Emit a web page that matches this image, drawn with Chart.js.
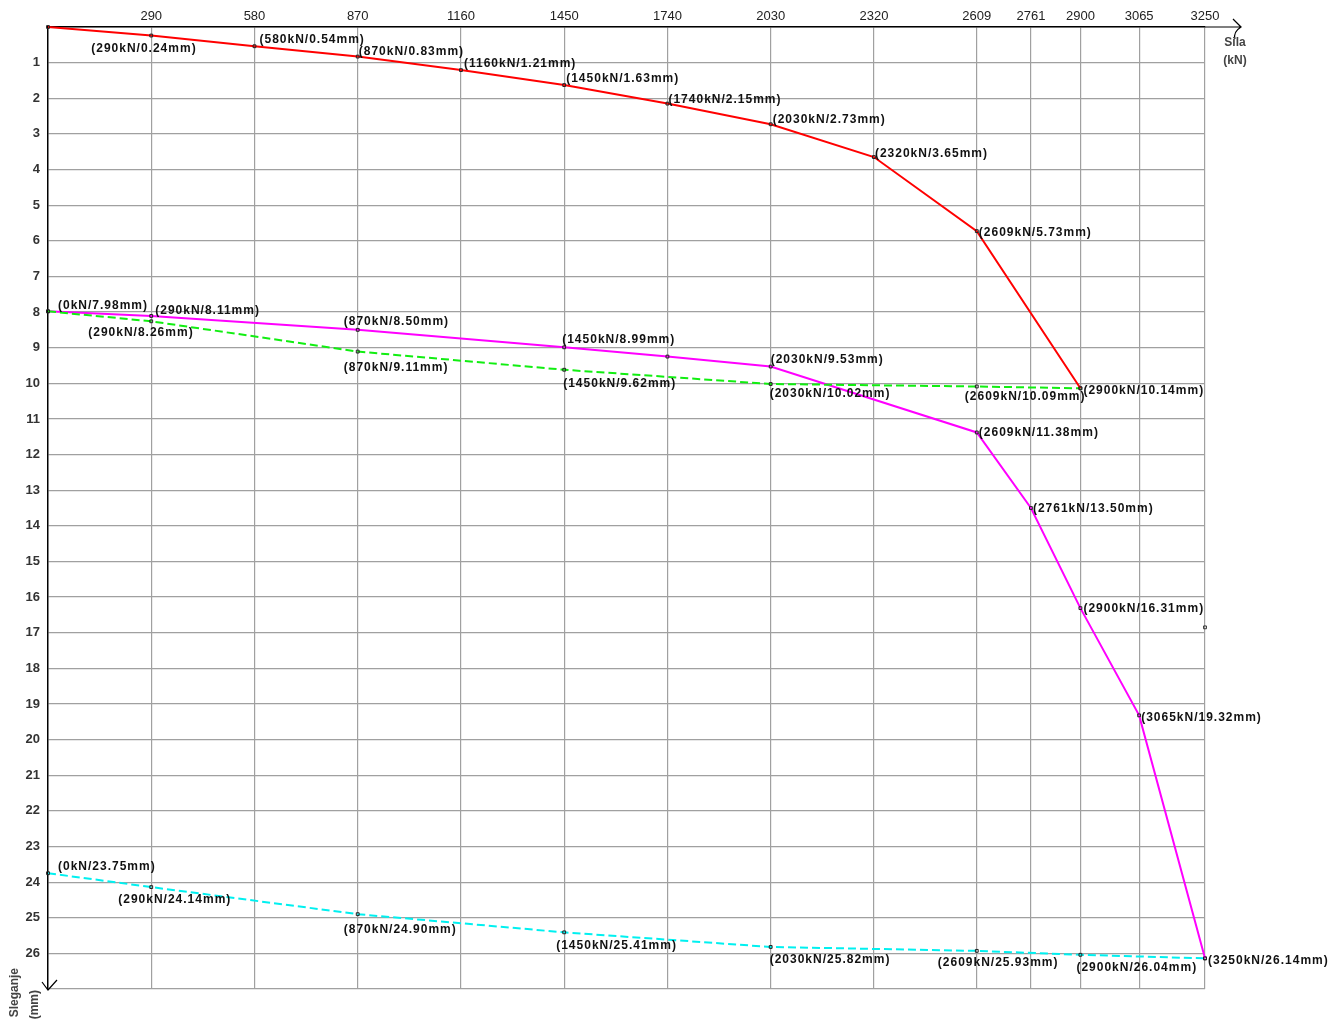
<!DOCTYPE html>
<html>
<head>
<meta charset="utf-8">
<script src="https://cdn.jsdelivr.net/npm/chart.js@4"></script>
<style>
  body { margin: 0; background: #fff; }
  canvas { display: block; }
</style>
</head>
<body>
<canvas id="canvas" width="1330" height="1023"></canvas>
<script>
// values (kN / mm)
let xTicks = [290, 580, 870, 1160, 1450, 1740, 2030, 2320, 2609, 2761, 2900, 3065, 3250];

let redX = [0, 290, 580, 870, 1160, 1450, 1740, 2030, 2320, 2609, 2900];
let redY = [0, 0.24, 0.54, 0.83, 1.21, 1.63, 2.15, 2.73, 3.65, 5.73, 10.14];

let magX = [0, 290, 870, 1450, 1740, 2030, 2609, 2761, 2900, 3065, 3250];
let magY = [7.98, 8.11, 8.50, 8.99, 9.25, 9.53, 11.38, 13.50, 16.31, 19.32, 26.14];

let greenX = [0, 290, 870, 1450, 2030, 2609, 2900];
let greenY = [7.98, 8.26, 9.11, 9.62, 10.02, 10.09, 10.14];

let cyanX = [0, 290, 870, 1450, 2030, 2609, 2900, 3250];
let cyanY = [23.75, 24.14, 24.90, 25.41, 25.82, 25.93, 26.04, 26.14];

let strayX = [3250];
let strayY = [16.85];

// where each point label sits relative to its point (null = no label)
let redLabelPos = [null, [-60, 13], [5, -7], [1, -5], [3, -6], [2, -6], [1, -4], [2, -5], [1, -3], [2, 2], [3, 2]];
let magLabelPos = [[10, -6], [4, -5], [-14, -8], [-2, -8], null, [0, -7], [2, 0], [2, 1], [3, 1], [2, 2], null];
let greenLabelPos = [null, [-63, 11], [-14, 16], [-1, 14], [-1, 10], [-12, 10], null];
let cyanLabelPos = [[10, -7], [-33, 13], [-14, 16], [-8, 13], [-1, 13], [-39, 12], [-4, 13], [3, 2]];

function pts(xs, ys) {
    return xs.map((x, i) => ({ x: x, y: ys[i] }));
}

function series(xs, ys, color, dashed, labels) {
    return {
        data: pts(xs, ys),
        borderColor: color,
        borderWidth: 2,
        borderDash: dashed ? [8, 4] : [],
        pointStyle: "rect",
        pointRadius: 2,
        pointBorderColor: "#222",
        pointBorderWidth: 1,
        pointBackgroundColor: "rgba(0,0,0,0)",
        tension: 0,
        clip: false,
        labelPos: labels
    };
}

let pointLabels = {
    id: "pointLabels",
    afterDatasetsDraw(chart) {
        let ctx = chart.ctx;
        ctx.save();
        ctx.font = "bold 12px 'Liberation Sans', Arial, sans-serif";
        ctx.letterSpacing = "1px";
        ctx.fillStyle = "#111";
        ctx.textAlign = "left";
        ctx.textBaseline = "middle";
        chart.data.datasets.forEach((ds, di) => {
            if (!ds.labelPos) return;
            let meta = chart.getDatasetMeta(di);
            ds.data.forEach((p, i) => {
                let off = ds.labelPos[i];
                if (!off) return;
                let el = meta.data[i];
                let txt = "(" + p.x + "kN/" + p.y.toFixed(2) + "mm)";
                ctx.fillText(txt, el.x + off[0], el.y + off[1]);
            });
        });
        ctx.restore();
    }
};

let axisDecor = {
    id: "axisDecor",
    afterDraw(chart) {
        let ctx = chart.ctx;
        let a = chart.chartArea;
        ctx.save();
        ctx.strokeStyle = "#000";
        ctx.lineWidth = 1.2;
        // x axis runs past the last tick into an arrow
        ctx.beginPath();
        ctx.moveTo(a.right, a.top);
        ctx.lineTo(a.right + 36, a.top);
        ctx.moveTo(a.right + 28, a.top - 8);
        ctx.lineTo(a.right + 36, a.top);
        ctx.quadraticCurveTo(a.right + 28, a.top + 5, a.right + 30, a.top + 12);
        ctx.stroke();
        // y axis arrow at the bottom
        ctx.beginPath();
        ctx.moveTo(a.left - 6, a.bottom - 7);
        ctx.lineTo(a.left, a.bottom + 1);
        ctx.lineTo(a.left + 9, a.bottom - 9);
        ctx.stroke();

        ctx.fillStyle = "#444";
        ctx.font = "bold 12px 'Liberation Sans', Arial, sans-serif";
        ctx.textAlign = "center";
        ctx.textBaseline = "middle";
        ctx.fillText("Sila", a.right + 30, 43);
        ctx.fillText("(kN)", a.right + 30, 61);

        ctx.translate(15, 966);
        ctx.rotate(-Math.PI / 2);
        ctx.textAlign = "right";
        ctx.fillText("Sleganje", -2, 0);
        ctx.fillText("(mm)", -24, 20);
        ctx.restore();
    }
};

let canvas = document.getElementById("canvas").getContext("2d");

let chart = new Chart(canvas, {
    type: "line",
    data: {
        datasets: [
            series(redX, redY, "#ff0000", false, redLabelPos),
            series(greenX, greenY, "#11ee11", true, greenLabelPos),
            series(magX, magY, "#ff00ff", false, magLabelPos),
            series(cyanX, cyanY, "#00f0f0", true, cyanLabelPos),
            {
                data: pts(strayX, strayY),
                showLine: false,
                clip: false,
                pointStyle: "rect",
                pointRadius: 2,
                pointBorderColor: "#333",
                pointBorderWidth: 1,
                pointBackgroundColor: "rgba(0,0,0,0)"
            }
        ]
    },
    options: {
        responsive: false,
        animation: false,
        devicePixelRatio: 1,
        layout: {
            padding: { left: 0, top: 0, right: 125, bottom: 34 }
        },
        scales: {
            x: {
                type: "linear",
                position: "top",
                min: 0,
                max: 3250,
                afterBuildTicks: s => { s.ticks = xTicks.map(v => ({ value: v })); },
                afterFit: s => { s.height = 27; },
                ticks: {
                    autoSkip: false,
                    maxRotation: 0,
                    padding: 3,
                    color: "#222",
                    font: { size: 13, family: "'Liberation Sans', Arial, sans-serif" },
                    callback: v => String(v)
                },
                grid: {
                    color: "#a0a0a0",
                    lineWidth: 1.2,
                    drawTicks: false
                },
                border: {
                    display: true,
                    color: "#000",
                    width: 1.5
                }
            },
            y: {
                type: "linear",
                reverse: true,
                min: 0,
                max: 27,
                afterFit: s => { s.width = 48; },
                ticks: {
                    stepSize: 1,
                    padding: 8,
                    color: "#333",
                    font: { size: 13, weight: "bold", family: "'Liberation Sans', Arial, sans-serif" },
                    callback: v => (v === 0 || v === 27) ? "" : v
                },
                grid: {
                    color: "#a0a0a0",
                    lineWidth: 1.2,
                    drawTicks: false
                },
                border: {
                    display: true,
                    color: "#000",
                    width: 1.5
                }
            }
        },
        plugins: {
            legend: { display: false },
            tooltip: { enabled: false }
        }
    },
    plugins: [pointLabels, axisDecor]
});
</script>
</body>
</html>
